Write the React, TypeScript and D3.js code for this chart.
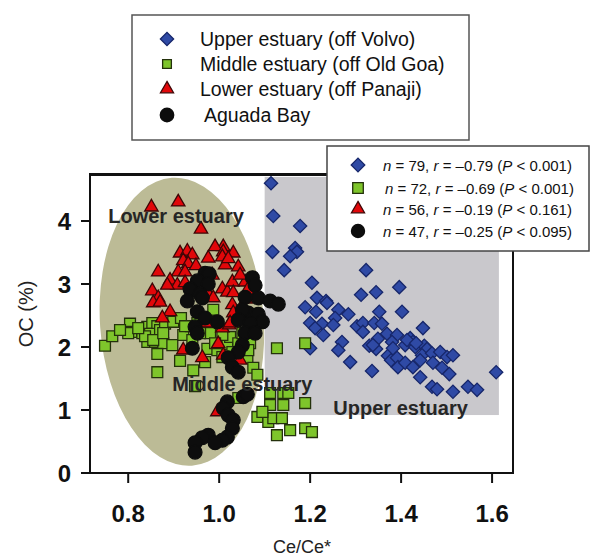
import { useEffect, useRef } from 'react'
import * as d3 from 'd3'

// Upper estuary (off Volvo) - blue diamonds
const upperX = [1.114, 1.119, 1.178, 1.117, 1.167, 1.171, 1.156, 1.143, 1.323, 1.204, 1.312, 1.345, 1.396, 1.215, 1.235, 1.189, 1.213, 1.262, 1.284, 1.352, 1.402, 1.200, 1.226, 1.255, 1.251, 1.303, 1.316, 1.341, 1.358, 1.211, 1.229, 1.270, 1.262, 1.330, 1.345, 1.200, 1.288, 1.336, 1.448, 1.369, 1.391, 1.380, 1.349, 1.338, 1.420, 1.426, 1.409, 1.431, 1.451, 1.457, 1.446, 1.468, 1.486, 1.501, 1.514, 1.371, 1.378, 1.391, 1.393, 1.409, 1.426, 1.442, 1.470, 1.490, 1.506, 1.442, 1.468, 1.479, 1.514, 1.547, 1.567, 1.609, 1.237, 1.413, 1.433, 1.382, 1.316]
const upperY = [4.60, 4.08, 3.92, 3.51, 3.57, 3.51, 3.44, 3.22, 3.22, 3.02, 2.83, 2.87, 2.95, 2.78, 2.73, 2.63, 2.56, 2.59, 2.52, 2.56, 2.56, 2.38, 2.37, 2.46, 2.35, 2.33, 2.38, 2.38, 2.37, 2.30, 2.19, 2.08, 1.95, 2.02, 1.97, 1.98, 1.76, 1.62, 2.30, 2.21, 2.19, 2.08, 2.13, 2.03, 2.14, 2.08, 2.03, 2.00, 2.02, 1.97, 1.87, 1.90, 1.92, 1.84, 1.87, 1.86, 1.79, 1.83, 1.68, 1.75, 1.68, 1.79, 1.75, 1.67, 1.57, 1.52, 1.37, 1.33, 1.29, 1.37, 1.32, 1.60, 2.70, 2.11, 2.06, 1.98, 2.24]

// Middle estuary (off Old Goa) - green squares
const middleX = [0.749, 0.765, 0.804, 0.807, 0.831, 0.842, 0.853, 0.864, 0.848, 0.870, 0.881, 0.899, 0.916, 0.842, 0.859, 0.877, 0.897, 0.837, 0.921, 0.938, 0.952, 0.969, 0.980, 0.987, 0.864, 0.864, 0.914, 0.943, 0.947, 0.974, 0.969, 0.996, 1.007, 1.018, 1.024, 1.042, 1.062, 1.075, 1.084, 1.042, 1.127, 1.189, 1.112, 1.141, 1.152, 1.112, 1.141, 1.189, 1.084, 1.108, 1.119, 1.138, 1.156, 1.189, 1.204, 1.127, 0.855, 0.877, 0.941, 0.976, 1.007, 1.051, 1.068, 0.800, 0.991, 1.029, 1.095, 0.958, 0.925, 0.822, 0.782, 1.064]
const middleY = [2.02, 2.17, 2.37, 2.24, 2.22, 2.32, 2.38, 2.33, 2.21, 2.27, 2.37, 2.40, 2.46, 2.08, 2.08, 2.06, 2.03, 2.17, 2.19, 2.33, 2.38, 2.38, 2.22, 2.59, 1.89, 1.60, 1.78, 1.63, 1.38, 1.97, 1.76, 1.95, 1.84, 2.05, 2.16, 2.06, 1.83, 1.67, 1.56, 1.19, 1.98, 2.06, 1.27, 1.27, 1.27, 1.08, 1.08, 1.11, 0.89, 0.81, 0.87, 0.87, 0.68, 0.71, 0.65, 0.60, 2.11, 2.22, 2.11, 2.40, 2.19, 2.22, 2.06, 2.22, 2.06, 1.92, 0.97, 2.22, 2.33, 2.30, 2.27, 1.95]

// Lower estuary (off Panaji) - red triangles
const lowerX = [0.851, 0.910, 0.960, 0.914, 0.930, 0.941, 0.921, 0.932, 0.910, 0.925, 0.866, 0.892, 0.908, 0.941, 0.925, 0.976, 1.009, 0.991, 1.009, 1.031, 1.007, 1.013, 1.042, 0.853, 0.866, 0.855, 0.870, 0.892, 0.875, 0.974, 0.987, 1.007, 1.018, 1.029, 1.031, 1.057, 1.062, 1.059, 1.029, 1.031, 1.007, 1.022, 0.974, 1.024, 0.921, 0.963, 0.998, 1.009, 1.046, 0.996, 0.949, 1.046, 0.886, 0.985, 1.020]
const lowerY = [4.22, 4.30, 3.87, 3.49, 3.52, 3.46, 3.37, 3.32, 3.19, 3.19, 3.19, 3.06, 2.98, 2.97, 3.02, 3.41, 3.59, 3.59, 3.51, 3.49, 3.43, 3.30, 3.27, 2.89, 2.78, 2.70, 2.71, 2.56, 2.46, 2.87, 2.78, 2.92, 2.87, 3.03, 2.86, 3.03, 2.90, 2.76, 2.67, 2.54, 2.30, 2.35, 2.38, 2.38, 1.95, 1.83, 2.05, 1.87, 1.79, 0.97, 3.29, 3.14, 2.98, 3.14, 3.40]

// Aguada Bay - black circles
const aguadaX = [0.969, 0.978, 0.952, 0.976, 0.936, 0.958, 0.930, 0.952, 0.969, 0.947, 0.952, 0.941, 1.073, 1.079, 1.057, 1.086, 1.112, 1.130, 1.064, 1.086, 1.095, 1.051, 1.042, 1.068, 1.057, 1.079, 0.996, 1.051, 1.042, 1.020, 1.029, 1.042, 1.053, 1.062, 1.018, 1.009, 1.020, 1.031, 1.029, 1.018, 1.007, 0.976, 0.963, 0.947, 0.947, 0.991, 0.963]
const aguadaY = [3.17, 3.16, 3.05, 3.00, 2.92, 2.84, 2.73, 2.56, 2.46, 2.32, 2.22, 1.98, 3.10, 2.98, 2.79, 2.78, 2.73, 2.68, 2.54, 2.52, 2.40, 2.59, 2.43, 2.37, 2.22, 2.22, 2.40, 2.03, 1.92, 1.83, 1.68, 1.60, 1.21, 1.25, 1.13, 1.03, 0.92, 0.84, 0.71, 0.57, 0.52, 0.60, 0.56, 0.48, 0.33, 0.48, 2.78]

const xTicks = [0.8, 1.0, 1.2, 1.4, 1.6]
const yTicks = [0, 1, 2, 3, 4]

const legendNames = ['Upper estuary (off Volvo)', 'Middle estuary (off Old Goa)', 'Lower estuary (off Panaji)', 'Aguada Bay']
const statN = [79, 72, 56, 47]
const statR = ['0.79', '0.69', '0.19', '0.25']
const statP = ['0.001', '0.001', '0.161', '0.095']

const zoneNames = ['Lower estuary', 'Middle estuary', 'Upper estuary']
const zoneX = [0.756, 0.897, 1.251]
const zoneY = [3.97, 1.30, 0.92]

const FONT = 'Liberation Sans, Arial, Helvetica, sans-serif'

export default function App() {
  const svgRef = useRef<SVGSVGElement>(null)

  useEffect(() => {
    const svg = d3.select(svgRef.current)
    svg.selectAll('*').remove()

    const x = d3.scaleLinear([0.716, 1.646], [90, 513])
    const y = d3.scaleLinear([0, 4.73], [473, 175])

    const series = [
      { xs: upperX, ys: upperY, shape: 'diamond', fill: '#2f4aa5', stroke: '#17276b' },
      { xs: middleX, ys: middleY, shape: 'square', fill: '#7ec52b', stroke: '#24310c' },
      { xs: lowerX, ys: lowerY, shape: 'triangle', fill: '#e1070a', stroke: '#3d0606' },
      { xs: aguadaX, ys: aguadaY, shape: 'circle', fill: '#0d0d0d', stroke: '#0d0d0d' }
    ]

    const symbolPath = (shape: string, scale = 1) => {
      if (shape === 'diamond') return d3.symbol(d3.symbolSquare, 88 * scale)()
      if (shape === 'square') return d3.symbol(d3.symbolSquare, 118 * scale)()
      if (shape === 'triangle') return d3.symbol(d3.symbolTriangle, 78 * scale)()
      return d3.symbol(d3.symbolCircle, 150 * scale)()
    }
    const rot = (shape: string) => (shape === 'diamond' ? ' rotate(45)' : '')

    // zones: ellipse for middle/lower, grey box for upper
    svg.append('ellipse')
      .attr('cx', 0).attr('cy', 0)
      .attr('rx', x(1.096) - x(0.916))
      .attr('ry', y(0) - y(2.29))
      .attr('transform', `translate(${x(0.918)},${y(2.40)}) rotate(-4)`)
      .attr('fill', '#bcbb96')

    svg.append('rect')
      .attr('x', x(1.1)).attr('y', y(4.7))
      .attr('width', x(1.615) - x(1.1))
      .attr('height', y(0.92) - y(4.7))
      .attr('fill', '#c9c8cc')

    // points
    series.forEach(s => {
      svg.append('g')
        .selectAll('path')
        .data(s.xs)
        .join('path')
        .attr('d', symbolPath(s.shape))
        .attr('transform', (d, i) => `translate(${x(d)},${y(s.ys[i])})${rot(s.shape)}`)
        .attr('fill', s.fill)
        .attr('stroke', s.stroke)
        .attr('stroke-width', 1.3)
    })

    // zone labels
    svg.append('g')
      .selectAll('text')
      .data(zoneNames)
      .join('text')
      .attr('x', (_, i) => x(zoneX[i]))
      .attr('y', (_, i) => y(zoneY[i]))
      .text(d => d)
      .style('font-family', FONT)
      .style('font-size', '20px')
      .style('font-weight', 'bold')
      .style('fill', '#262626')

    // frame
    svg.append('rect')
      .attr('x', 90).attr('y', 175)
      .attr('width', 423).attr('height', 298)
      .attr('fill', 'none')
      .attr('stroke', '#111')
      .attr('stroke-width', 2)
    svg.append('line')
      .attr('x1', 89).attr('x2', 514)
      .attr('y1', 174.5).attr('y2', 174.5)
      .attr('stroke', '#111')
      .attr('stroke-width', 3)

    // x ticks + labels
    const xg = svg.append('g')
    xg.selectAll('line')
      .data(xTicks)
      .join('line')
      .attr('x1', d => x(d)).attr('x2', d => x(d))
      .attr('y1', 473).attr('y2', 483)
      .attr('stroke', '#111').attr('stroke-width', 2)
    xg.selectAll('text')
      .data(xTicks)
      .join('text')
      .attr('x', d => x(d))
      .attr('y', 522)
      .attr('text-anchor', 'middle')
      .text(d => d3.format('.1f')(d))
      .style('font-family', FONT)
      .style('font-size', '24px')
      .style('font-weight', 'bold')
      .style('fill', '#111')

    // y ticks + labels
    const yg = svg.append('g')
    yg.selectAll('line')
      .data(yTicks)
      .join('line')
      .attr('x1', 81).attr('x2', 90)
      .attr('y1', d => y(d)).attr('y2', d => y(d))
      .attr('stroke', '#111').attr('stroke-width', 2)
    yg.selectAll('text')
      .data(yTicks)
      .join('text')
      .attr('x', 71)
      .attr('y', d => y(d) + 9)
      .attr('text-anchor', 'end')
      .text(d => d)
      .style('font-family', FONT)
      .style('font-size', '24px')
      .style('font-weight', 'bold')
      .style('fill', '#111')

    // axis titles
    svg.append('text')
      .attr('x', 302).attr('y', 553)
      .attr('text-anchor', 'middle')
      .text('Ce/Ce*')
      .style('font-family', FONT)
      .style('font-size', '18px')
      .style('fill', '#222')
    svg.append('text')
      .attr('transform', 'translate(33,314) rotate(-90)')
      .attr('text-anchor', 'middle')
      .text('OC (%)')
      .style('font-family', FONT)
      .style('font-size', '20px')
      .style('fill', '#222')

    // legend 1
    const l1 = svg.append('g')
    l1.append('rect')
      .attr('x', 132).attr('y', 15)
      .attr('width', 337).attr('height', 125)
      .attr('fill', '#fff')
      .attr('stroke', '#555')
      .attr('stroke-width', 1.5)
    const l1Rows = [39, 64, 89, 115]
    const l1Scale = [1, 0.65, 0.95, 0.95]
    series.forEach((s, i) => {
      l1.append('path')
        .attr('d', symbolPath(s.shape, l1Scale[i]))
        .attr('transform', `translate(167,${l1Rows[i]})${rot(s.shape)}`)
        .attr('fill', s.fill)
        .attr('stroke', s.stroke)
        .attr('stroke-width', 1.3)
    })
    l1.selectAll('text')
      .data(legendNames)
      .join('text')
      .attr('x', (_, i) => (i === 3 ? 204 : 200))
      .attr('y', (_, i) => l1Rows[i] + 7)
      .text(d => d)
      .style('font-family', FONT)
      .style('font-size', '19.5px')
      .style('fill', '#111')

    // legend 2 (statistics)
    const l2 = svg.append('g')
    l2.append('rect')
      .attr('x', 327).attr('y', 146)
      .attr('width', 262).attr('height', 105)
      .attr('fill', '#fff')
      .attr('stroke', '#444')
      .attr('stroke-width', 1.5)
    const l2Rows = [165, 188, 209, 231]
    const l2Scale = [1.05, 0.95, 0.95, 0.9]
    series.forEach((s, i) => {
      l2.append('path')
        .attr('d', symbolPath(s.shape, l2Scale[i]))
        .attr('transform', `translate(358,${l2Rows[i]})${rot(s.shape)}`)
        .attr('fill', s.fill)
        .attr('stroke', s.stroke)
        .attr('stroke-width', 1.3)
      const t = l2.append('text')
        .attr('x', i === 1 ? 385 : 383)
        .attr('y', l2Rows[i] + 5.5)
        .style('font-family', FONT)
        .style('font-size', '15px')
        .style('fill', '#111')
      t.append('tspan').style('font-style', 'italic').text('n')
      t.append('tspan').text(` = ${statN[i]}, `)
      t.append('tspan').style('font-style', 'italic').text('r')
      t.append('tspan').text(` = \u2013${statR[i]} (`)
      t.append('tspan').style('font-style', 'italic').text('P')
      t.append('tspan').text(` < ${statP[i]})`)
    })
  }, [])

  return (
    <svg
      ref={svgRef}
      width={594}
      height={559}
      style={{ position: 'absolute', left: 0, top: 0, background: '#fff' }}
    />
  )
}
